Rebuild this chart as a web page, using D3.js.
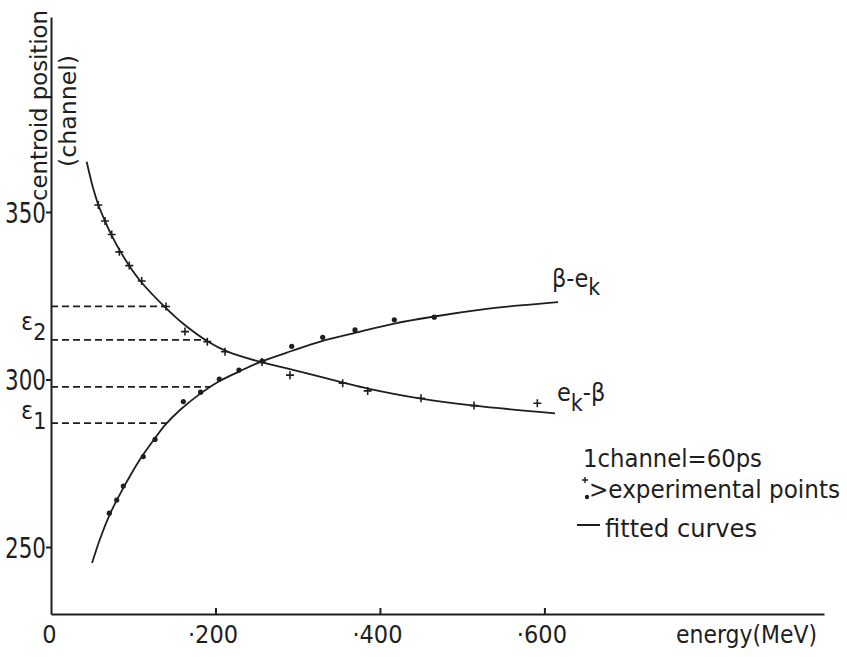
<!DOCTYPE html>
<html lang="en">
<head>
<meta charset="UTF-8">
<title>Centroid position vs energy</title>
<script src="https://cdn.jsdelivr.net/npm/d3@7"></script>
<style>
    body { margin: 0; background: #fff; }
    svg { display: block; }
    text {
        font-family: "Liberation Sans Narrow", "DejaVu Sans Condensed", "DejaVu Sans", sans-serif;
        fill: #1e1e1e;
    }
    .axis path, .axis line { stroke: #1e1e1e; stroke-width: 2; }
</style>
</head>
<body>
<div id="chart"></div>
<script>
// values (energy in MeV, centroid in channels)
const xTicks = [0, 200, 400, 600];
const xTickLabels = ["0", "·200", "·400", "·600"];
const yTicks = [250, 300, 350];

// e_k - beta : "+" points and fitted curve
const plusEnergy  = [57.5, 65.7, 73.8, 83.1, 95.2, 110.3, 139.9, 162.9, 190.1, 211.6, 256.6, 290.6, 354.7, 385.1, 449.9, 514.4, 591.4];
const plusChannel = [352.1, 347.3, 343.3, 338.1, 334.0, 329.4, 321.8, 314.3, 311.3, 308.3, 305.2, 301.3, 298.9, 296.6, 294.4, 292.2, 292.9];
const curveAEnergy  = [43.4, 51.1, 57.2, 65.7, 74.2, 83.9, 96.1, 110.7, 138.6, 160.5, 189.7, 214.0, 256.6, 290.6, 355.1, 385.5, 449.9, 514.4, 612.9];
const curveAChannel = [365.0, 357.2, 352.4, 347.3, 342.8, 338.4, 333.6, 328.8, 321.6, 316.7, 311.5, 308.4, 305.1, 303.1, 299.1, 297.3, 294.3, 292.2, 289.9];

// beta - e_k : dot points and fitted curve
const dotEnergy  = [70.9, 79.9, 87.9, 112.2, 126.5, 160.9, 182.0, 204.7, 228.6, 256.6, 292.7, 330.4, 369.7, 417.5, 466.1];
const dotChannel = [260.1, 264.0, 268.2, 277.0, 282.1, 293.4, 296.2, 300.1, 302.8, 305.5, 309.9, 312.6, 314.8, 317.8, 318.6];
const curveBEnergy  = [49.9, 59.6, 71.8, 83.9, 96.1, 111.9, 126.5, 138.6, 156.9, 181.2, 205.5, 229.8, 254.2, 292.7, 330.4, 369.7, 417.5, 466.1, 525.4, 570.4, 616.6];
const curveBChannel = [245.2, 252.4, 259.9, 265.8, 271.2, 277.5, 282.5, 286.4, 290.9, 295.7, 299.6, 302.5, 305.2, 308.5, 311.5, 313.9, 316.7, 318.8, 320.9, 322.1, 323.1];

// dashed guide lines (epsilon levels)
const guideChannel = [321.8, 311.8, 297.8, 287];
const guideEnergy  = [139.8, 189.7, 193.4, 141];

const width = 847, height = 657;

const svg = d3.select("#chart").append("svg")
    .attr("width", width)
    .attr("height", height);

const x = d3.scaleLinear().domain([0, 940]).range([51, 824]);
const y = d3.scaleLinear().domain([230, 408.2]).range([614, 17]);

// axes
const yAxis = svg.append("g")
    .attr("class", "axis")
    .attr("transform", `translate(${x(0)},0)`)
    .call(d3.axisLeft(y).tickValues(yTicks).tickSize(5).tickSizeOuter(0).tickPadding(0));
yAxis.selectAll("text")
    .attr("font-size", 29)
    .attr("textLength", 41)
    .attr("lengthAdjust", "spacingAndGlyphs")
    .attr("dy", "0.36em");

const xAxis = svg.append("g")
    .attr("class", "axis")
    .attr("transform", `translate(0,${y(230)})`)
    .call(d3.axisBottom(x).tickValues(xTicks).tickSize(-6).tickSizeOuter(0).tickPadding(11)
        .tickFormat((d, i) => xTickLabels[i]));
xAxis.selectAll(".tick").filter(d => d === 0).select("line").remove();
xAxis.selectAll("text")
    .attr("font-size", 25)
    .attr("dx", d => d === 0 ? -2 : -3);
svg.selectAll(".axis text").attr("fill", "#1e1e1e");

// axis titles
svg.append("text")
    .attr("transform", "translate(47,201) rotate(-90)")
    .attr("font-size", 23)
    .attr("textLength", 191)
    .attr("lengthAdjust", "spacingAndGlyphs")
    .text("centroid position");
svg.append("text")
    .attr("transform", "translate(76,167) rotate(-90)")
    .attr("font-size", 23)
    .attr("textLength", 112)
    .attr("lengthAdjust", "spacingAndGlyphs")
    .text("(channel)");
svg.append("text")
    .attr("x", 676).attr("y", 643)
    .attr("font-size", 25)
    .attr("textLength", 141)
    .attr("lengthAdjust", "spacingAndGlyphs")
    .text("energy(MeV)");

// dashed guides
svg.append("g").selectAll("line")
    .data(d3.zip(guideEnergy, guideChannel))
    .join("line")
    .attr("x1", x(0)).attr("x2", d => x(d[0]))
    .attr("y1", d => y(d[1])).attr("y2", d => y(d[1]))
    .attr("stroke", "#1e1e1e")
    .attr("stroke-width", 1.8)
    .attr("stroke-dasharray", "7,4");

// epsilon labels
function eps(xp, yp, sub) {
    const t = svg.append("text").attr("x", xp).attr("y", yp).attr("font-size", 25);
    t.append("tspan").text("ε");
    t.append("tspan").attr("dy", 10).attr("font-size", 23).text(sub);
}
eps(21, 330, "2");
eps(21, 419, "1");

// fitted curves
const line = d3.line()
    .x(d => x(d[0]))
    .y(d => y(d[1]))
    .curve(d3.curveCatmullRom.alpha(0.5));

svg.append("path")
    .datum(d3.zip(curveAEnergy, curveAChannel))
    .attr("d", line)
    .attr("fill", "none").attr("stroke", "#1e1e1e").attr("stroke-width", 1.8);
svg.append("path")
    .datum(d3.zip(curveBEnergy, curveBChannel))
    .attr("d", line)
    .attr("fill", "none").attr("stroke", "#1e1e1e").attr("stroke-width", 1.8);

// experimental points
svg.append("g").selectAll("path")
    .data(d3.zip(plusEnergy, plusChannel))
    .join("path")
    .attr("transform", d => `translate(${x(d[0])},${y(d[1])})`)
    .attr("d", "M-4,0H4M0,-4V4")
    .attr("stroke", "#1e1e1e").attr("stroke-width", 1.6);
svg.append("g").selectAll("circle")
    .data(d3.zip(dotEnergy, dotChannel))
    .join("circle")
    .attr("cx", d => x(d[0])).attr("cy", d => y(d[1]))
    .attr("r", 2.6)
    .attr("fill", "#1e1e1e");

// curve labels
const lb = svg.append("text").attr("x", 552).attr("y", 287).attr("font-size", 25);
lb.append("tspan").text("β-e");
lb.append("tspan").attr("dy", 8).attr("font-size", 23).text("k");

const la = svg.append("text").attr("x", 557).attr("y", 401).attr("font-size", 25);
la.append("tspan").text("e");
la.append("tspan").attr("dy", 10).attr("font-size", 23).text("k");
la.append("tspan").attr("dy", -10).text("-β");

// legend
svg.append("text")
    .attr("x", 583).attr("y", 467)
    .attr("font-size", 25)
    .attr("textLength", 179)
    .attr("lengthAdjust", "spacingAndGlyphs")
    .text("1channel=60ps");
svg.append("path")
    .attr("d", "M582,480H588M585,477V483")
    .attr("stroke", "#1e1e1e").attr("stroke-width", 1.4);
svg.append("circle")
    .attr("cx", 587).attr("cy", 497).attr("r", 2.2)
    .attr("fill", "#1e1e1e");
svg.append("text")
    .attr("x", 589).attr("y", 498)
    .attr("font-size", 25)
    .attr("textLength", 251)
    .attr("lengthAdjust", "spacingAndGlyphs")
    .text(">experimental points");
svg.append("line")
    .attr("x1", 577).attr("x2", 600)
    .attr("y1", 525).attr("y2", 525)
    .attr("stroke", "#1e1e1e").attr("stroke-width", 2);
svg.append("text")
    .attr("x", 605).attr("y", 537)
    .attr("font-size", 25)
    .attr("textLength", 152)
    .attr("lengthAdjust", "spacingAndGlyphs")
    .text("fitted curves");
</script>
</body>
</html>
